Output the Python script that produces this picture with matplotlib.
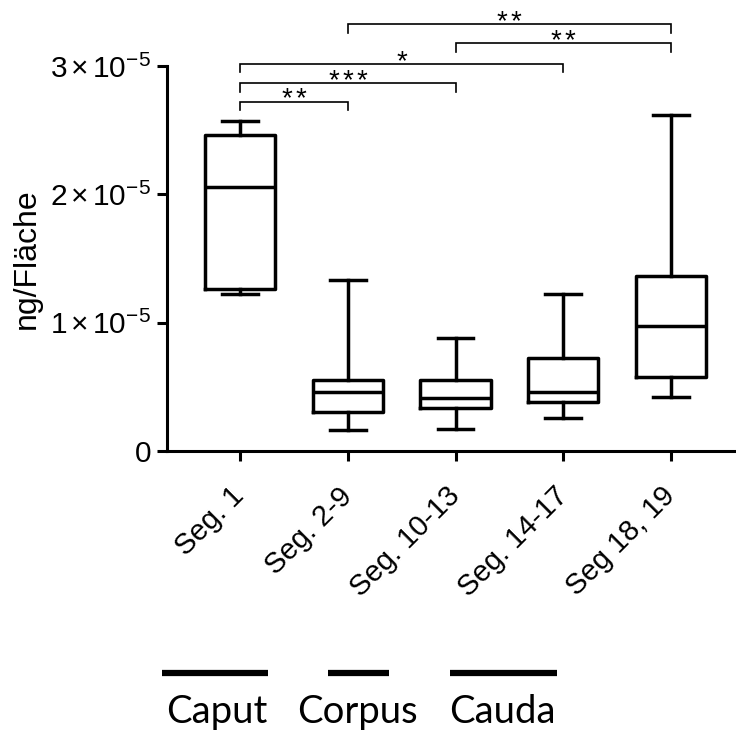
import matplotlib
matplotlib.use("Agg")
import matplotlib.pyplot as plt
from matplotlib.lines import Line2D

plt.rcParams['font.family'] = ['Liberation Sans', 'DejaVu Sans']
plt.rcParams['mathtext.fontset'] = 'custom'
plt.rcParams['mathtext.rm'] = 'Liberation Sans'
plt.rcParams['mathtext.it'] = 'Liberation Sans:italic'
plt.rcParams['mathtext.bf'] = 'Liberation Sans:bold'

# ---- data (units of 1e-5 ng/Fläche) ----
categories = ["Seg. 1", "Seg. 2-9", "Seg. 10-13", "Seg. 14-17", "Seg 18, 19"]
whisker_low = [1.22, 0.161, 0.174, 0.255, 0.419]
quartile1 = [1.26, 0.306, 0.333, 0.384, 0.577]
median = [2.06, 0.46, 0.413, 0.462, 0.972]
quartile3 = [2.46, 0.551, 0.551, 0.727, 1.366]
whisker_high = [2.57, 1.333, 0.883, 1.221, 2.62]
scale = 1e-5

ytick_values = [0, 1, 2, 3]
ytick_labels = ["0", r"$\mathregular{1\,{\times}\,10^{-5}}$",
                r"$\mathregular{2\,{\times}\,10^{-5}}$", r"$\mathregular{3\,{\times}\,10^{-5}}$"]

# significance comparisons: (group i, group j, bracket height, stars)
comp_left = [0, 0, 0, 2, 1]
comp_right = [1, 2, 3, 4, 4]
comp_height = [2.722, 2.866, 3.016, 3.178, 3.326]
comp_stars = ["**", "***", "*", "**", "**"]

regions = ["Caput", "Corpus", "Cauda"]

# ---- figure ----
W, H = 736, 731
fig = plt.figure(figsize=(W / 100, H / 100), dpi=100)
ax = fig.add_axes([167 / W, (H - 451) / H, (736 - 167) / W, (451 - 66) / H])

positions = list(range(1, len(categories) + 1))
stats = []
for i in range(len(categories)):
    stats.append(dict(whislo=whisker_low[i] * scale, q1=quartile1[i] * scale,
                      med=median[i] * scale, q3=quartile3[i] * scale,
                      whishi=whisker_high[i] * scale, fliers=[]))

lw = 2.5
ax.bxp(stats, positions=positions, widths=0.65, capwidths=0.33, showfliers=False,
       boxprops=dict(color='black', linewidth=lw),
       medianprops=dict(color='black', linewidth=lw),
       whiskerprops=dict(color='black', linewidth=lw),
       capprops=dict(color='black', linewidth=lw))

ax.set_xlim(1 - 73 / 107.75, 5 + 65 / 107.75)
ax.set_ylim(0, 3e-5)

for s in ['top', 'right']:
    ax.spines[s].set_visible(False)
for s in ['left', 'bottom']:
    ax.spines[s].set_linewidth(2.2)

ax.set_yticks([v * scale for v in ytick_values])
ax.set_yticklabels(ytick_labels, fontsize=21.5)
ax.set_xticks(positions)
ax.set_xticklabels(categories, fontsize=21, rotation=45, ha='right', va='center',
                   rotation_mode='anchor')
ax.tick_params(axis='both', length=7.5, width=2.2, color='black')
ax.tick_params(axis='y', pad=4)
ax.tick_params(axis='x', pad=22)
ax.set_ylabel("ng/Fläche", fontsize=23, labelpad=6)

# significance brackets
leg = 0.066
px_pt = 72 / 100
for a, b, h, st in zip(comp_left, comp_right, comp_height, comp_stars):
    x1, x2 = positions[a], positions[b]
    ax.plot([x1, x1, x2, x2], [(h - leg) * scale, h * scale, h * scale, (h - leg) * scale],
            color='black', linewidth=1.2, clip_on=False, solid_joinstyle='miter')
    n = len(st)
    for k in range(n):
        dx = (k - (n - 1) / 2) * 14 * px_pt
        ax.annotate("*", xy=((x1 + x2) / 2, h * scale), xytext=(dx, -3.5),
                    textcoords='offset points', ha='center', va='baseline',
                    fontsize=20, annotation_clip=False)

# anatomical region bars
bar_x = [(162, 268), (328, 389), (450, 557)]
text_x = [217, 357, 502]
for (xa, xb), tx, name in zip(bar_x, text_x, regions):
    fig.add_artist(Line2D([xa / W, xb / W], [(H - 673) / H] * 2, color='black',
                          linewidth=4.5, solid_capstyle='butt'))
    fig.text(tx / W, (H - 723) / H, name, ha='center', va='baseline',
             fontsize=27.5, family=['Lato', 'DejaVu Sans'])

fig.savefig("out.png", dpi=100)
